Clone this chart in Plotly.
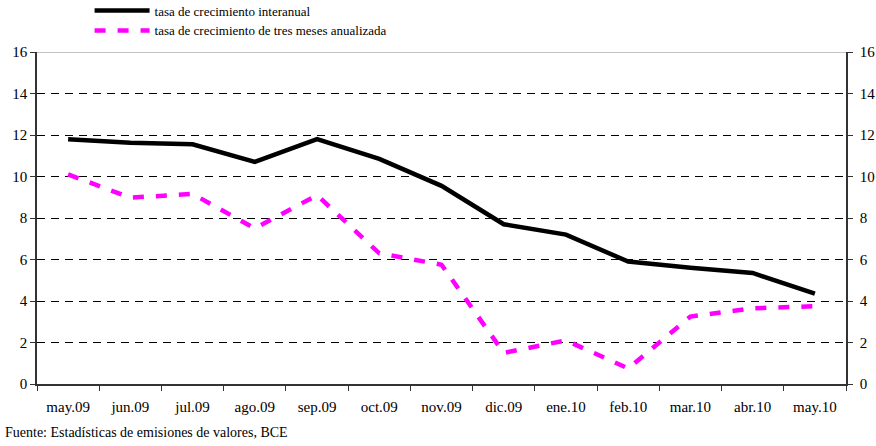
import plotly.graph_objects as go

months = ["may.09", "jun.09", "jul.09", "ago.09", "sep.09", "oct.09", "nov.09",
          "dic.09", "ene.10", "feb.10", "mar.10", "abr.10", "may.10"]
interanual = [11.8, 11.63, 11.55, 10.7, 11.8, 10.85, 9.55, 7.7, 7.2, 5.9, 5.6, 5.35, 4.35]
tres_meses = [10.1, 8.98, 9.16, 7.5, 9.1, 6.3, 5.75, 1.5, 2.1, 0.75, 3.25, 3.65, 3.75]
y_ticks = [0, 2, 4, 6, 8, 10, 12, 14, 16]

name1 = "tasa de crecimiento interanual"
name2 = "tasa de crecimiento de tres meses anualizada"
source = "Fuente: Estadísticas de emisiones de valores, BCE"

serif = "Liberation Serif"

fig = go.Figure()
fig.add_trace(go.Scatter(x=months, y=interanual, mode="lines", name=name1,
                         line=dict(color="black", width=4.5)))
fig.add_trace(go.Scatter(x=months, y=tres_meses, mode="lines", name=name2,
                         line=dict(color="#FF00FF", width=4.5, dash="11px,12px")))
# invisible trace to activate right axis
fig.add_trace(go.Scatter(x=months, y=interanual, yaxis="y2", mode="lines",
                         line=dict(width=0), hoverinfo="skip", showlegend=False,
                         opacity=0))

fig.update_layout(
    width=876, height=446,
    margin=dict(l=37, r=30, t=52, b=62, autoexpand=False),
    paper_bgcolor="white", plot_bgcolor="white",
    font=dict(family=serif, size=15, color="black"),
    showlegend=True,
    legend=dict(x=0.065, y=1.17, xanchor="left", yanchor="top",
                font=dict(size=13, family=serif), itemwidth=55,
                bgcolor="rgba(0,0,0,0)", tracegroupgap=0),
    xaxis=dict(type="category", showline=True, linecolor="#333", linewidth=1.5,
               ticks="outside", ticklen=5, tickcolor="#333", showgrid=False,
               tickson="boundaries", range=[-0.5, 12.5], ticklabelstandoff=8,
               tickfont=dict(size=15, family=serif)),
    yaxis=dict(range=[0, 16], tickvals=y_ticks, showline=True, linecolor="#333",
               linewidth=1.5, ticks="outside", ticklen=5, tickcolor="#333",
               showgrid=True, gridcolor="black", gridwidth=1, griddash="8px,6px",
               zeroline=False, tickfont=dict(size=15, family=serif)),
    yaxis2=dict(range=[0, 16], tickvals=y_ticks, overlaying="y", side="right",
                showline=True, linecolor="#333", linewidth=1.5, ticks="outside",
                ticklen=5, tickcolor="#333", showgrid=False, zeroline=False,
                ticklabelstandoff=4, tickfont=dict(size=15, family=serif)),
    shapes=[dict(type="line", xref="paper", yref="y", x0=0, x1=1, y0=16, y1=16,
                 line=dict(color="#888", width=1))],
    annotations=[dict(text=source, xref="paper", yref="paper", x=-0.042, y=-0.146,
                      xanchor="left", yanchor="middle", showarrow=False,
                      font=dict(size=14, family=serif))],
)

fig.write_html("out.html", config={"displayModeBar": False},
               post_script="document.body.style.margin='0';document.body.style.padding='0';")
